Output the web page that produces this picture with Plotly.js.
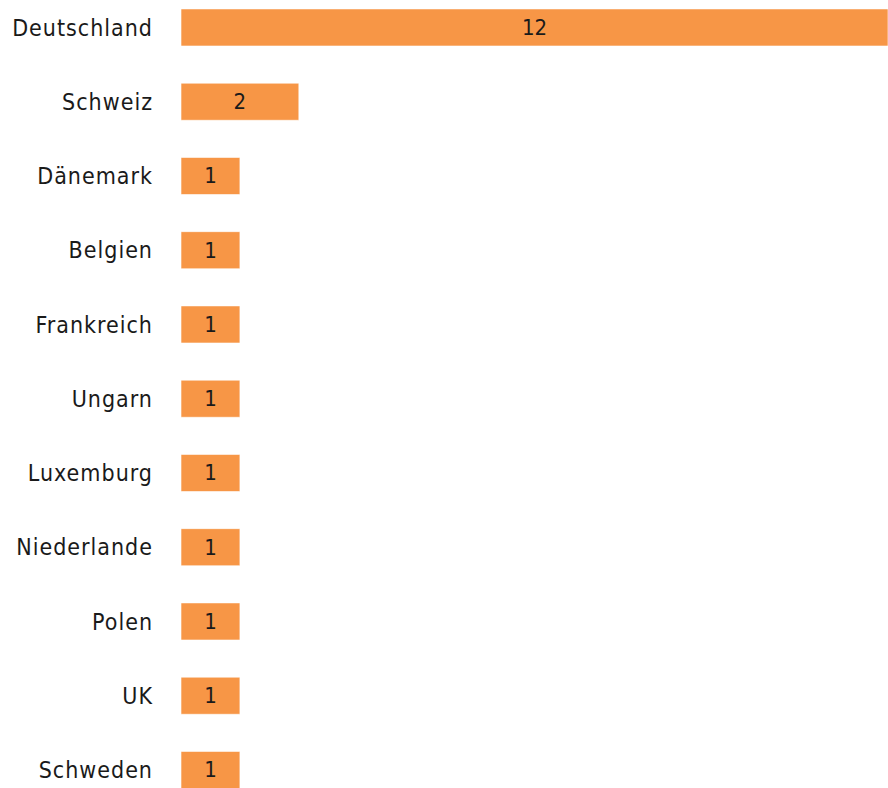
<!DOCTYPE html>
<html>
<head>
<meta charset="utf-8">
<script src="https://cdn.plot.ly/plotly-3.0.1.min.js"></script>
<style>
html,body{margin:0;padding:0;background:#fff;}
#chart{width:888px;height:788px;}
.ytick text{letter-spacing:1px;}
</style>
</head>
<body>
<div id="chart"></div>
<script>
const countries = ["Deutschland","Schweiz","Dänemark","Belgien","Frankreich","Ungarn","Luxemburg","Niederlande","Polen","UK","Schweden"];
const counts = [12,2,1,1,1,1,1,1,1,1,1];

const trace = {
  type: "bar",
  orientation: "h",
  x: counts,
  y: countries,
  text: counts.map(String),
  textposition: "inside",
  insidetextanchor: "middle",
  textangle: 0,
  textfont: {family: "DejaVu Sans Condensed, sans-serif", size: 22, color: "#1a1a1a"},
  marker: {color: "#f79646", line: {color: "rgba(255,255,255,0.6)", width: 1}},
  hoverinfo: "none"
};

const layout = {
  width: 888, height: 788,
  margin: {l: 181, r: 0, t: 0, b: 0, pad: 0},
  paper_bgcolor: "#fff", plot_bgcolor: "#fff",
  bargap: 0.5,
  showlegend: false,
  font: {family: "DejaVu Sans Condensed, sans-serif", size: 22, color: "#1a1a1a"},
  xaxis: {range: [0, 12], showgrid: false, zeroline: false, showticklabels: false, showline: false, ticks: ""},
  yaxis: {type: "category", range: [10.243, -0.370], showgrid: false, zeroline: false, showline: false, ticks: "", ticklabelstandoff: 27,
          tickfont: {family: "DejaVu Sans Condensed, sans-serif", size: 23, color: "#1a1a1a"}}
};

Plotly.newPlot("chart", [trace], layout, {displayModeBar: false, staticPlot: true});
</script>
</body>
</html>
